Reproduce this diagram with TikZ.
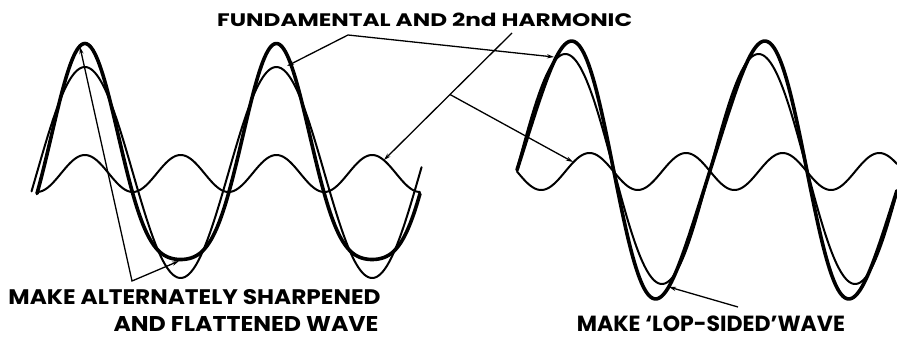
\documentclass[tikz,border=0pt]{standalone}
\usepackage{fontspec}
\usetikzlibrary{arrows.meta}
\newfontfamily\labfont{Poppins}
\begin{document}
\begin{tikzpicture}[x=1pt,y=-1pt,
  thickw/.style={line width=3.6pt, line cap=round, line join=round},
  thinw/.style={line width=2pt, line cap=round, line join=round},
  lead/.style={line width=1.3pt, -{Stealth[length=7pt,width=4.2pt]}},
  lead2/.style={line width=1.3pt, {Stealth[length=7pt,width=4.2pt]}-{Stealth[length=7pt,width=4.2pt]}},
  lbl/.style={inner sep=0pt, anchor=base west, font=\labfont\bfseries}]
\useasboundingbox (0,0) rectangle (897,337);
% left panel
\draw[thinw] plot[domain=-0.18:12.62, samples=240] ({37+30.48*\x},{172.5-105.5*sin(\x r)});
\draw[thinw] plot[domain=0:12.566, samples=240] ({37+30.48*\x},{173.5+18.5*cos(2*\x r)});
\draw[thickw] plot[domain=0:12.566, samples=240] ({37+30.48*\x},{172.5-108*sin(\x r)+21*cos(2*\x r)});
% right panel
\draw[thinw] plot[domain=0:12.357, samples=240] ({517+30.75*\x},{169-115*sin(\x r)});
\draw[thinw] plot[domain=0:12.357, samples=240] ({517+30.75*\x},{171.5+18.5*sin(2*\x r)});
\draw[thickw] plot[domain=0:12.357, samples=240] ({517+30.75*\x},{170-126*sin(\x r)+14*sin(2*\x r)});
% labels
\node[lbl] (top) at (217,26.5) {\resizebox{415pt}{13.5pt}{FUNDAMENTAL AND 2nd HARMONIC}};
\node[lbl] (bl1) at (8.3,304) {\resizebox{372pt}{15pt}{MAKE ALTERNATELY SHARPENED}};
\node[lbl] (bl2) at (113.3,331) {\resizebox{265pt}{15pt}{AND FLATTENED WAVE}};
\node[lbl] (br) at (576.7,331) {\resizebox{268pt}{15.6pt}{MAKE ‘LOP-SIDED’WAVE}};
% leaders
\coordinate (v1) at (348,35);
\coordinate (fL) at (287,66);
\coordinate (fR) at (554,57);
\draw[lead2] (fL) -- (v1) -- (fR);
\coordinate (h0) at (512,33);
\coordinate (hL) at (384,160);
\coordinate (hb) at (450,94.5);
\coordinate (hR) at (573,162);
\draw[lead] (h0) -- (hL);
\draw[lead] (hb) -- (hR);
\coordinate (v2) at (132,281);
\coordinate (pk) at (80,47);
\coordinate (tr) at (179,261);
\draw[lead2] (pk) -- (v2) -- (tr);
\coordinate (v3) at (738,307);
\coordinate (ls) at (669,287);
\draw[lead] (v3) -- (ls);
\end{tikzpicture}
\end{document}
